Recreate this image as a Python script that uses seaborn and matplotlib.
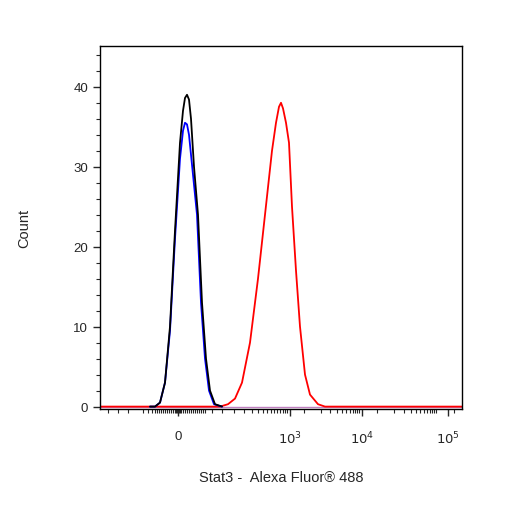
import matplotlib
matplotlib.use("Agg")
import matplotlib.pyplot as plt
import seaborn as sns
import numpy as np
import pandas as pd

# x positions in display-channel units (axis spans 100..462)
black_x = [150,155,160,165,170,175,180,183,185,187,189,191,194,198,202,206,210,215,222]
black_y = [0,0,0.5,3,10,22,33,37,38.6,39,38.4,36,30,24,13,6,2,0.3,0]
blue_x = [150,155,160,165,170,175,180,183,185,187,189,193,197,201,205,209,214,222]
blue_y = [0,0,0.5,3,9.5,21,31,34.5,35.5,35.3,34,29,24,13,6,2,0.3,0]
red_x = [100,220,228,235,242,250,258,265,272,276,279,281,283,286,289,292,296,300,305,310,318,325,462]
red_y = [0,0,0.3,1,3,8,16,24,32,35.5,37.5,38,37.3,35.5,33,25,17,10,4,1.5,0.3,0,0]
base_x = [100,462]
base_y = [0,0]
tick_pos = [178,290,362,448]
tick_labels = ["0", r"$10^3$", r"$10^4$", r"$10^5$"]

sns.set_style("ticks")
plt.rcParams['font.family'] = ['Liberation Sans', 'DejaVu Sans']
fig = plt.figure(figsize=(5.06,5.06), dpi=100)
ax = fig.add_axes([100/506, 1-410/506, 362/506, 363/506])
sns.lineplot(x=base_x, y=base_y, color="#c080c0", lw=1, ax=ax)
sns.lineplot(x=red_x, y=red_y, color="red", lw=1.3, ax=ax)
sns.lineplot(x=blue_x, y=blue_y, color="blue", lw=1.3, ax=ax)
sns.lineplot(x=black_x, y=black_y, color="black", lw=1.3, ax=ax)
ax.set_xlim(100,462)
ax.set_ylim(-0.3,45.1)
ax.set_yticks([0,10,20,30,40])
ax.set_yticks(np.arange(0,45,2), minor=True)
ax.set_xticks(tick_pos)
ax.set_xticklabels(tick_labels)
minor = [108,118,128,143,148,152,155,157,159,161,163,165,167,169,171,173,175,176,177,179,180,181,183,185,187,189,191,193,195,197,199,201,203,205,212,222,234,244,252,258,263,267,271,274,277,280,283,285,287,304,321,330,337,342,346,350,353,355,357,359,377,394,404,411,416,420,424,427,430,432,434,436,454]
ax.set_xticks(minor, minor=True)
ax.tick_params(axis='both', which='major', length=5, width=1, labelsize=9.5, direction='out')
ax.tick_params(axis='both', which='minor', length=3, width=0.8)
ax.tick_params(axis='x', pad=10)
for s in ax.spines.values():
    s.set_color('black'); s.set_linewidth(1)
ax.set_ylabel("Count", fontsize=10.5, labelpad=30)
ax.set_xlabel("Stat3 -  Alexa Fluor® 488", fontsize=10.5, labelpad=17)
fig.savefig("out.png", dpi=100)
